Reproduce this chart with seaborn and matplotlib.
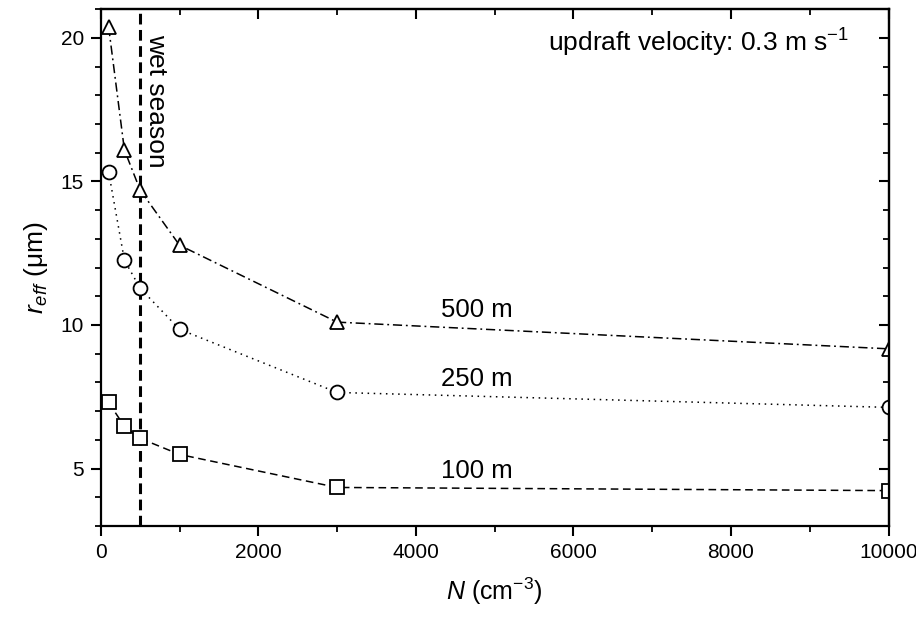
import matplotlib
matplotlib.use("Agg")
import matplotlib.pyplot as plt
import seaborn as sns
import pandas as pd
from matplotlib.ticker import MultipleLocator

# ---- data ----
N = [100, 300, 500, 1000, 3000, 10000]
r_500 = [20.38, 16.1, 14.7, 12.78, 10.1, 9.17]
r_250 = [15.33, 12.26, 11.28, 9.85, 7.65, 7.13]
r_100 = [7.30, 6.47, 6.05, 5.49, 4.34, 4.23]
series_labels = ["500 m", "250 m", "100 m"]
label_pos_x = [4770, 4770, 4770]
label_pos_y = [10.51, 8.11, 4.93]
wet_season_N = 500

sns.set_style("ticks")
plt.rcParams['font.family'] = ['Liberation Sans', 'DejaVu Sans']
plt.rcParams['mathtext.fontset'] = 'custom'
plt.rcParams['mathtext.rm'] = 'Liberation Sans'
plt.rcParams['mathtext.it'] = 'Liberation Sans:italic'
plt.rcParams['text.color'] = 'black'
plt.rcParams['axes.labelcolor'] = 'black'
plt.rcParams['xtick.color'] = 'black'
plt.rcParams['ytick.color'] = 'black'

fig = plt.figure(figsize=(9.16, 6.18), dpi=100)
ax = fig.add_axes([0.110, 0.149, 0.860, 0.836])

styles = [
    dict(marker='^', dashes=(6, 2.5, 1.2, 2.5)),
    dict(marker='o', dashes=(1, 3)),
    dict(marker='s', dashes=(5, 3)),
]
for vals, st in zip([r_500, r_250, r_100], styles):
    df = pd.DataFrame({"N": N, "r": vals})
    sns.lineplot(data=df, x="N", y="r", ax=ax, color='black', lw=1.1,
                 marker=st['marker'], markersize=10, markerfacecolor='white',
                 markeredgecolor='black', markeredgewidth=1.3)
    ax.lines[-1].set_dashes(st['dashes'])

ax.axvline(wet_season_N, color='black', lw=2.2, dashes=(3.5, 1.8), zorder=1)

ax.set_xlim(0, 10000)
ax.set_ylim(3, 21)
ax.xaxis.set_major_locator(MultipleLocator(2000))
ax.xaxis.set_minor_locator(MultipleLocator(1000))
ax.yaxis.set_major_locator(MultipleLocator(5))
ax.yaxis.set_minor_locator(MultipleLocator(1))

for side in ['left', 'bottom', 'right', 'top']:
    ax.spines[side].set_linewidth(1.6)
    ax.spines[side].set_color('black')

ax.tick_params(axis='both', which='major', direction='out', length=7, width=1.5,
               labelsize=15, pad=5)
ax.tick_params(axis='both', which='minor', direction='out', length=4, width=1.3)

axt = ax.secondary_xaxis('top')
axt.xaxis.set_major_locator(MultipleLocator(2000))
axt.xaxis.set_minor_locator(MultipleLocator(1000))
axt.tick_params(which='major', direction='in', length=7, width=1.5, labeltop=False)
axt.tick_params(which='minor', direction='in', length=4, width=1.3)
axt.spines['top'].set_linewidth(1.6)
axr = ax.secondary_yaxis('right')
axr.yaxis.set_major_locator(MultipleLocator(5))
axr.yaxis.set_minor_locator(MultipleLocator(1))
axr.tick_params(which='major', direction='in', length=7, width=1.5, labelright=False)
axr.tick_params(which='minor', direction='in', length=4, width=1.3)
axr.spines['right'].set_linewidth(1.6)

ax.set_xlabel(r"$N$ (cm$^{\mathregular{-3}}$)", fontsize=18, labelpad=10)
ax.set_ylabel(r"$r_{eff}$ ($\mathregular{\mu}$m)", fontsize=19, labelpad=8)

for lab, lx, ly in zip(series_labels, label_pos_x, label_pos_y):
    ax.text(lx, ly, lab, fontsize=18.5, ha='center', va='center')

ax.text(698, 20.15, "wet season", rotation=270, fontsize=19, ha='center', va='top')
ax.text(0.95, 0.934, "updraft velocity: 0.3 m s$^{\\mathregular{-1}}$",
        transform=ax.transAxes, fontsize=19, ha='right', va='center')

fig.savefig("out.png", dpi=100)
